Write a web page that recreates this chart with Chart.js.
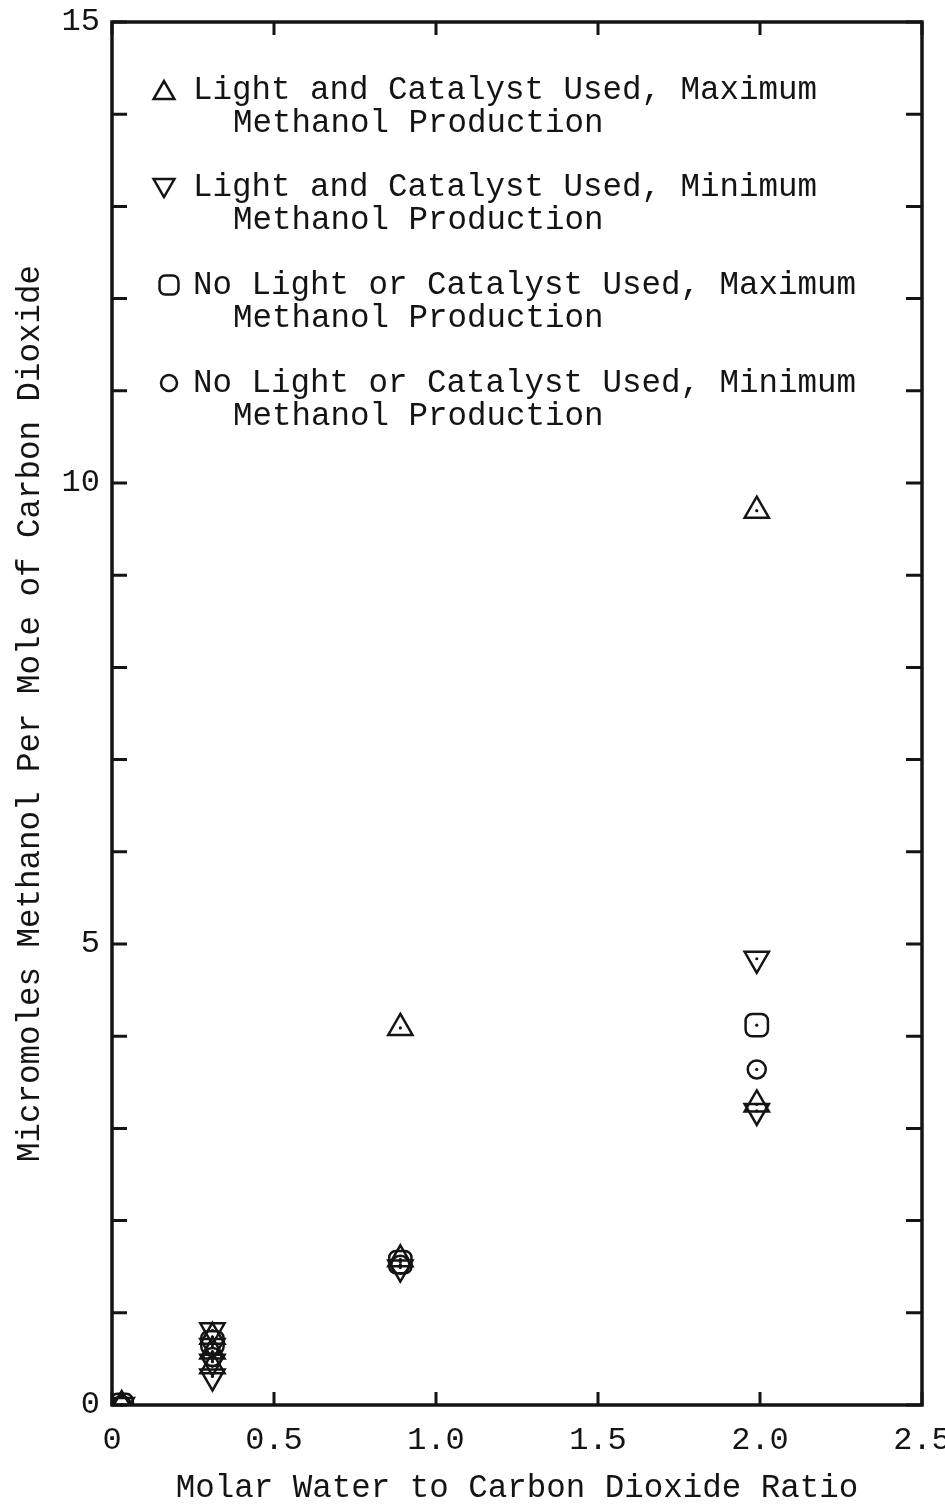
<!DOCTYPE html>
<html>
<head>
<meta charset="utf-8">
<script src="https://cdn.jsdelivr.net/npm/chart.js@4/dist/chart.umd.min.js"></script>
<style>
  html, body { margin: 0; padding: 0; background: #fff; }
  .wrap { width: 945px; height: 1505px; position: relative; }
</style>
</head>
<body>
<div class="wrap"><canvas id="chart"></canvas></div>
<script>
// Light and catalyst used, maximum / minimum methanol production
const lcMaxX = [0.03, 0.31, 0.31, 0.31, 0.89, 0.89, 1.99, 1.99];
const lcMaxY = [0.0, 0.74, 0.58, 0.42, 1.58, 4.09, 3.26, 9.70];
const lcMinX = [0.03, 0.31, 0.31, 0.31, 0.31, 0.89, 1.99, 1.99];
const lcMinY = [0.0, 0.81, 0.64, 0.47, 0.31, 1.49, 3.19, 4.84];
// No light or catalyst used, maximum / minimum methanol production
const nlMaxX = [0.03, 0.31, 0.89, 1.99];
const nlMaxY = [0.0, 0.68, 1.55, 4.12];
const nlMinX = [0.03, 0.31, 0.89, 1.99];
const nlMinY = [0.0, 0.52, 1.52, 3.64];

const legendLines = [
  ["Light and Catalyst Used, Maximum", "Methanol Production"],
  ["Light and Catalyst Used, Minimum", "Methanol Production"],
  ["No Light or Catalyst Used, Maximum", "Methanol Production"],
  ["No Light or Catalyst Used, Minimum", "Methanol Production"],
];
const xTitle = "Molar Water to Carbon Dioxide Ratio";
const yTitle = "Micromoles Methanol Per Mole of Carbon Dioxide";

const ink = "#141414";
const mono = "'Liberation Mono', 'DejaVu Sans Mono', monospace";

const pts = (xs, ys) => xs.map((x, i) => ({ x, y: ys[i] }));

const marker = (style, r, rot) => ({
  pointStyle: style,
  pointRadius: r,
  pointHoverRadius: r,
  pointRotation: rot,
  pointBorderWidth: 2.5,
  pointBorderColor: ink,
  pointBackgroundColor: "rgba(0,0,0,0)",
  showLine: false,
});

const datasets = [
  { label: legendLines[0].join(" "), data: pts(lcMaxX, lcMaxY), ...marker("triangle", 14, 0) },
  { label: legendLines[1].join(" "), data: pts(lcMinX, lcMinY), ...marker("triangle", 14, 180) },
  { label: legendLines[2].join(" "), data: pts(nlMaxX, nlMaxY), ...marker("rectRounded", 13, 0) },
  { label: legendLines[3].join(" "), data: pts(nlMinX, nlMinY), ...marker("circle", 9, 0) },
];

// inward ticks on all four sides plus the frame
const frameTicks = {
  id: "frameTicks",
  afterDraw(chart) {
    const { ctx, chartArea: a, scales: { x, y } } = chart;
    ctx.save();
    ctx.strokeStyle = ink;
    ctx.lineWidth = 3;
    ctx.beginPath();
    x.ticks.forEach((t) => {
      const px = x.getPixelForValue(t.value);
      ctx.moveTo(px, a.bottom); ctx.lineTo(px, a.bottom - 13);
      ctx.moveTo(px, a.top); ctx.lineTo(px, a.top + 13);
    });
    y.ticks.forEach((t) => {
      const py = y.getPixelForValue(t.value);
      ctx.moveTo(a.left, py); ctx.lineTo(a.left + 15, py);
      ctx.moveTo(a.right, py); ctx.lineTo(a.right - 16, py);
    });
    ctx.stroke();
    ctx.lineWidth = 3.5;
    ctx.strokeRect(a.left, a.top, a.right - a.left, a.bottom - a.top);
    ctx.restore();
  },
};

// small centre dot in every marker, as on the original plot
const centreDots = {
  id: "centreDots",
  afterDatasetsDraw(chart) {
    const { ctx } = chart;
    ctx.save();
    ctx.fillStyle = ink;
    chart.data.datasets.forEach((ds, i) => {
      chart.getDatasetMeta(i).data.forEach((el) => {
        ctx.beginPath();
        ctx.arc(el.x, el.y, 1.6, 0, Math.PI * 2);
        ctx.fill();
      });
    });
    ctx.restore();
  },
};

// two-line legend written inside the plot, typewriter style
const textLegend = {
  id: "textLegend",
  afterDraw(chart) {
    const { ctx } = chart;
    const rows = [90, 187, 285, 383];
    const markX = [164, 164, 169, 169];
    ctx.save();
    ctx.textBaseline = "middle";
    ctx.textAlign = "left";
    ctx.font = `32.5px ${mono}`;
    legendLines.forEach((lines, i) => {
      const ds = chart.data.datasets[i];
      const r = ds.pointStyle === "circle" ? 8 : ds.pointStyle === "rectRounded" ? 11 : 12;
      ctx.strokeStyle = ink;
      ctx.lineWidth = 2.5;
      ctx.fillStyle = "rgba(0,0,0,0)";
      Chart.helpers.drawPoint(ctx, {
        pointStyle: ds.pointStyle, radius: r, rotation: ds.pointRotation, borderWidth: 2.5,
      }, markX[i], rows[i] + (ds.pointStyle === "triangle" ? (ds.pointRotation ? -2 : 3) : 0));
      ctx.fillStyle = ink;
      ctx.fillText(lines[0], 193, rows[i]);
      ctx.fillText(lines[1], 233, rows[i] + 33);
    });
    ctx.restore();
  },
};

new Chart(document.getElementById("chart"), {
  type: "scatter",
  data: { datasets },
  options: {
    responsive: true,
    maintainAspectRatio: false,
    animation: false,
    layout: { padding: { top: 22, right: 23, left: 0, bottom: 0 } },
    plugins: {
      legend: { display: false },
      tooltip: { enabled: false },
    },
    scales: {
      x: {
        type: "linear",
        min: 0,
        max: 2.5,
        grid: { display: false },
        border: { display: false },
        ticks: {
          stepSize: 0.5,
          color: ink,
          padding: 8,
          font: { family: mono, size: 32 },
          callback: (v) => (v === 0 ? "0" : v.toFixed(1)),
        },
        title: {
          display: true,
          text: xTitle,
          color: ink,
          font: { family: mono, size: 32.5, lineHeight: 1 },
          padding: { top: 0, bottom: 0 },
        },
        afterFit: (s) => { s.height = 100; s.paddingLeft = 0; s.paddingRight = 0; },
      },
      y: {
        type: "linear",
        min: 0,
        max: 15,
        grid: { display: false },
        border: { display: false },
        ticks: {
          stepSize: 1,
          autoSkip: false,
          color: ink,
          padding: 4,
          font: { family: mono, size: 32 },
          callback: (v) => (v % 5 === 0 ? String(v) : ""),
        },
        title: {
          display: true,
          text: yTitle,
          color: ink,
          font: { family: mono, size: 32.5, lineHeight: 1 },
          padding: { top: 14, bottom: 0 },
        },
        afterFit: (s) => { s.width = 112; s.paddingTop = 0; s.paddingBottom = 0; },
      },
    },
  },
  plugins: [frameTicks, centreDots, textLegend],
});
</script>
</body>
</html>
